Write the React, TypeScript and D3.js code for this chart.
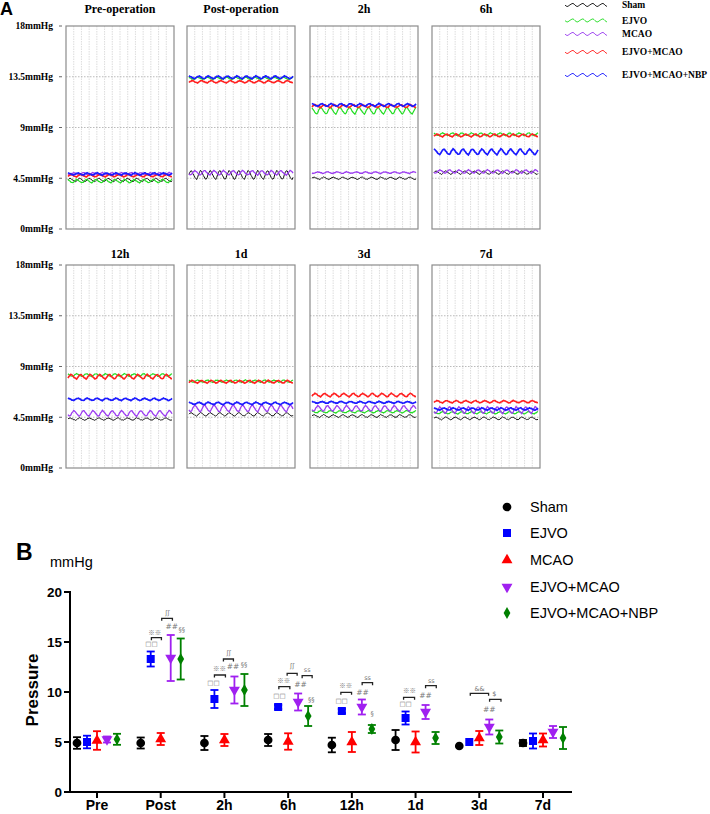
import React from "react";
import * as d3 from "d3";

// ---------- Panel A data ----------
const panelTitles = ["Pre-operation", "Post-operation", "2h", "6h", "12h", "1d", "3d", "7d"];
const aGroups = ["Sham", "EJVO", "MCAO", "EJVO+MCAO", "EJVO+MCAO+NBP"];
const aColors = ["#111111", "#22dd22", "#9b3cf0", "#ff2020", "#1a1aff"];
const aWidths = [1, 1.2, 1.3, 1.6, 1.7];
const aTicks = [0, 4.5, 9, 13.5, 18];
const aTickLabels = ["0mmHg", "4.5mmHg", "9mmHg", "13.5mmHg", "18mmHg"];
// baseline level of each trace in each panel (mmHg)
const aSham = [4.35, 4.8, 4.5, 5.0, 4.34, 4.76, 4.61, 4.4];
const aEjvo = [4.25, 13.36, 10.5, 8.4, 8.24, 7.7, 4.99, 4.9];
const aMcao = [4.9, 4.99, 5.0, 5.1, 4.85, 5.29, 5.29, 5.14];
const aEm = [4.73, 13.06, 10.9, 8.3, 8.1, 7.65, 6.47, 5.88];
const aNbp = [4.88, 13.45, 11.0, 6.85, 6.09, 5.73, 5.82, 5.23];
// half-amplitude of the oscillation of each trace (mmHg)
const ampSham = [0.15, 0.4, 0.1, 0.15, 0.1, 0.15, 0.12, 0.12];
const ampEjvo = [0.15, 0.1, 0.3, 0.12, 0.12, 0.1, 0.1, 0.1];
const ampMcao = [0.1, 0.2, 0.07, 0.15, 0.25, 0.3, 0.25, 0.3];
const ampEm = [0.1, 0.1, 0.12, 0.12, 0.2, 0.12, 0.15, 0.1];
const ampNbp = [0.1, 0.12, 0.12, 0.25, 0.1, 0.1, 0.08, 0.1];
// one beat of the recorded trace (normalised) and recording noise
const cycleShape = [0.1, 0.55, 0.95, 0.8, 0.35, -0.1, -0.5, -0.85, -1.0, -0.6];
const noise = [0.0, 0.3, -0.2, 0.15, -0.35, 0.25, -0.1, 0.4, -0.3, 0.05, 0.2, -0.25, 0.35];
const beats = 11;

// ---------- Panel B data ----------
const categories = ["Pre", "Post", "2h", "6h", "12h", "1d", "3d", "7d"];
const bGroups = ["Sham", "EJVO", "MCAO", "EJVO+MCAO", "EJVO+MCAO+NBP"];
const bColors = ["#000000", "#0000ff", "#ff0000", "#a020f0", "#008000"];
const bTicks = [0, 5, 10, 15, 20];
const shamMean = [4.9, 4.9, 4.9, 5.2, 4.7, 5.2, 4.6, 4.9];
const shamErr = [0.58, 0.55, 0.7, 0.6, 0.73, 1.0, 0, 0.3];
const ejvoMean = [5.0, 13.3, 9.3, 8.5, 8.1, 7.4, 5.0, 5.1];
const ejvoErr = [0.63, 0.75, 0.9, 0.2, 0.2, 0.65, 0, 0.75];
const mcaoMean = [5.15, 5.3, 5.2, 5.05, 5.0, 5.0, 5.4, 5.2];
const mcaoErr = [0.93, 0.6, 0.6, 0.82, 1.0, 1.05, 0.7, 0.65];
const emMean = [5.25, 13.4, 10.2, 9.0, 8.5, 8.0, 6.5, 6.0];
const emErr = [0.3, 2.3, 1.35, 0.85, 0.75, 0.7, 0.75, 0.6];
const nbpMean = [5.27, 13.3, 10.2, 7.6, 6.3, 5.4, 5.5, 5.4];
const nbpErr = [0.55, 2.05, 1.6, 1.0, 0.4, 0.6, 0.65, 1.1];
// significance marks: [category, slot offset, value, text]
const marks: [string, number, number, string][] = [
  ["Post", 0.67, 17.93, "ʃʃ"], ["Post", -0.6, 15.97, "※※"], ["Post", -0.93, 14.83, "□□"],
  ["Post", 1.1, 16.6, "##"], ["Post", 2.1, 16.2, "§§"],
  ["2h", -1.1, 10.93, "□□"], ["2h", -0.5, 12.37, "※※"], ["2h", 0.43, 13.93, "ʃʃ"],
  ["2h", 0.85, 12.6, "##"], ["2h", 1.95, 12.7, "§§"],
  ["6h", -0.87, 9.6, "□□"], ["6h", -0.43, 11.13, "※※"], ["6h", 0.4, 12.6, "ʃʃ"],
  ["6h", 1.23, 10.77, "##"], ["6h", 1.9, 12.2, "ss"], ["6h", 2.3, 9.27, "§§"],
  ["12h", -1.03, 9.13, "□□"], ["12h", -0.6, 10.6, "※※"], ["12h", 1.07, 9.97, "##"],
  ["12h", 1.57, 11.47, "ss"], ["12h", 2.03, 7.87, "§"],
  ["1d", -1.0, 8.8, "□□"], ["1d", -0.6, 10.1, "※※"], ["1d", 1.0, 9.7, "##"], ["1d", 1.57, 11.13, "ss"],
  ["3d", 0.03, 10.3, "&&"], ["3d", 1.5, 9.8, "$"], ["3d", 1.0, 8.27, "##"],
];
// brackets: [category, from slot, to slot, value]
const brackets: [string, number, number, number][] = [
  ["Post", 0.1, 1.17, 17.37], ["Post", -0.93, 0.07, 15.43],
  ["2h", -1.0, 0.1, 11.7], ["2h", -0.1, 0.9, 13.3],
  ["6h", -0.93, 0.17, 10.53], ["6h", -0.1, 0.9, 11.87], ["6h", 1.4, 2.4, 11.63],
  ["12h", -1.1, -0.03, 9.97], ["12h", 1.03, 2.07, 10.93],
  ["1d", -1.2, -0.1, 9.47], ["1d", 1.0, 2.07, 10.63],
  ["3d", -0.9, 0.93, 9.87], ["3d", 1.03, 2.17, 9.27],
];

const SERIF = "'Liberation Serif', 'Times New Roman', serif";
const SANS = "'Liberation Sans', Arial, sans-serif";

function markerPath(g: number, size: number) {
  const types = [d3.symbolCircle, d3.symbolSquare, d3.symbolTriangle, d3.symbolTriangle, d3.symbolDiamond];
  return d3.symbol().type(types[g]).size(size)() as string;
}

export default function App() {
  const aLevels = [aSham, aEjvo, aMcao, aEm, aNbp];
  const aAmps = [ampSham, ampEjvo, ampMcao, ampEm, ampNbp];
  const panelLefts = [66, 187, 310, 432];
  const panelW = 108;
  const rowY = [
    d3.scaleLinear().domain([0, 18]).range([229, 26]),
    d3.scaleLinear().domain([0, 18]).range([468, 265]),
  ];
  const titleY = [13, 258];
  const nPts = beats * cycleShape.length;

  const panels = panelTitles.map((title, p) => {
    const row = Math.floor(p / 4);
    const col = p % 4;
    const left = panelLefts[col];
    const y = rowY[row];
    const x = d3.scaleLinear().domain([0, nPts - 1]).range([left + 2, left + panelW - 2]);
    const top = y(18);
    const bottom = y(0);
    const vLines = d3.range(1, 14).map((i) => left + (i * panelW) / 14);
    return (
      <g key={title}>
        <text x={left + panelW / 2} y={titleY[row]} textAnchor="middle" fontFamily={SERIF} fontWeight="bold" fontSize={12}>
          {title}
        </text>
        <rect x={left} y={top} width={panelW} height={bottom - top} fill="#fff" />
        {vLines.map((vx, i) => (
          <line key={i} x1={vx} x2={vx} y1={top} y2={bottom} stroke="#d4d4d4" strokeWidth={0.8} strokeDasharray="1.5,1" />
        ))}
        {[4.5, 9, 13.5].map((t) => (
          <line key={t} x1={left} x2={left + panelW} y1={y(t)} y2={y(t)} stroke="#aaaaaa" strokeWidth={0.8} strokeDasharray="1.5,1.5" />
        ))}
        {aGroups.map((g, gi) => {
          const line = d3
            .line<number>()
            .x((_, i) => x(i))
            .y((_, i) =>
              y(
                aLevels[gi][p] +
                  aAmps[gi][p] * cycleShape[(i + gi * 3) % cycleShape.length] +
                  0.07 * noise[(i + gi * 5) % noise.length]
              )
            );
          return (
            <path key={g} d={line(d3.range(nPts)) as string} fill="none" stroke={aColors[gi]} strokeWidth={aWidths[gi]} />
          );
        })}
        <rect x={left} y={top} width={panelW} height={bottom - top} fill="none" stroke="#8c8c8c" strokeWidth={1.2} />
      </g>
    );
  });

  const yAxesA = rowY.map((y, r) => (
    <g key={r}>
      {aTicks.map((t, i) => (
        <g key={t}>
          <text x={53} y={y(t)} dy="0.35em" textAnchor="end" fontFamily={SERIF} fontWeight="bold" fontSize={9.5}>
            {aTickLabels[i]}
          </text>
          <line x1={59} x2={62} y1={y(t)} y2={y(t)} stroke="#666" strokeWidth={1} />
        </g>
      ))}
    </g>
  ));

  const legendAY = [5, 20.5, 34, 52, 75];
  const legendWave = d3.range(0, 43).map((i) => i);
  const legendA = aGroups.map((g, gi) => {
    const ly = legendAY[gi];
    const line = d3
      .line<number>()
      .x((i) => 565 + i)
      .y((i) => ly + 1.6 * cycleShape[i % cycleShape.length]);
    return (
      <g key={g}>
        <path d={line(legendWave) as string} fill="none" stroke={aColors[gi]} strokeWidth={0.9} />
        <text x={622} y={ly} dy="0.35em" fontFamily={SERIF} fontWeight="bold" fontSize={9.5}>
          {g}
        </text>
      </g>
    );
  });

  // ---------- Panel B ----------
  const bx = d3.scalePoint<string>().domain(categories).range([97, 543]).padding(0);
  const by = d3.scaleLinear().domain([0, 20]).range([792, 592]);
  const slot = 10;
  const offsets = [-2, -1, 0, 1, 2];
  const bMeans = [shamMean, ejvoMean, mcaoMean, emMean, nbpMean];
  const bErrs = [shamErr, ejvoErr, mcaoErr, emErr, nbpErr];
  const mSizes = [60, 64, 52, 52, 40];

  const points = bGroups.map((g, gi) =>
    categories.map((c, ci) => {
      const cx = (bx(c) as number) + offsets[gi] * slot;
      const m = bMeans[gi][ci];
      const e = bErrs[gi][ci];
      const col = bColors[gi];
      return (
        <g key={g + c}>
          {e > 0 && (
            <g stroke={col} strokeWidth={1.8}>
              <line x1={cx} x2={cx} y1={by(m + e)} y2={by(m - e)} />
              <line x1={cx - 4} x2={cx + 4} y1={by(m + e)} y2={by(m + e)} />
              <line x1={cx - 4} x2={cx + 4} y1={by(m - e)} y2={by(m - e)} />
            </g>
          )}
          <path
            d={markerPath(gi, mSizes[gi])}
            transform={`translate(${cx},${by(m)})${gi === 3 ? " rotate(180)" : ""}`}
            fill={col}
          />
        </g>
      );
    })
  );

  const legendBY = [507, 533, 560, 587, 613];

  return (
    <svg width={710} height={814} style={{ position: "absolute", left: 0, top: 0, background: "#fff" }}>
      <rect width={710} height={814} fill="#fff" />
      <text x={0} y={15} fontFamily={SANS} fontWeight="bold" fontSize={18}>A</text>
      {yAxesA}
      {panels}
      {legendA}

      <text x={16} y={560} fontFamily={SANS} fontWeight="bold" fontSize={23}>B</text>
      <text x={50} y={567} fontFamily={SANS} fontSize={14.5}>mmHg</text>
      <text transform="translate(38,690) rotate(-90)" textAnchor="middle" fontFamily={SANS} fontWeight="bold" fontSize={17}>
        Pressure
      </text>
      {/* y axis */}
      <line x1={70} x2={70} y1={by(20) - 1} y2={by(0) + 1} stroke="#000" strokeWidth={2} />
      {bTicks.map((t) => (
        <g key={t}>
          <line x1={64} x2={70} y1={by(t)} y2={by(t)} stroke="#000" strokeWidth={2} />
          <text x={62} y={by(t)} dy="0.36em" textAnchor="end" fontFamily={SANS} fontWeight="bold" fontSize={13.5}>
            {t}
          </text>
        </g>
      ))}
      {/* x axis */}
      <line x1={69} x2={572} y1={by(0)} y2={by(0)} stroke="#000" strokeWidth={2} />
      {categories.map((c) => (
        <g key={c}>
          <line x1={bx(c)} x2={bx(c)} y1={by(0)} y2={by(0) + 6} stroke="#000" strokeWidth={2} />
          <text x={bx(c)} y={810} textAnchor="middle" fontFamily={SANS} fontWeight="bold" fontSize={14}>
            {c}
          </text>
        </g>
      ))}
      {points}
      {brackets.map(([c, f, t, v], i) => {
        const x1 = (bx(c) as number) + f * slot;
        const x2 = (bx(c) as number) + t * slot;
        const yy = by(v);
        return (
          <path key={i} d={`M${x1},${yy + 2.5}V${yy}H${x2}V${yy + 2.5}`} fill="none" stroke="#222" strokeWidth={1.3} />
        );
      })}
      {marks.map(([c, o, v, t], i) => (
        <text
          key={i}
          x={(bx(c) as number) + o * slot}
          y={by(v)}
          dy="0.35em"
          textAnchor="middle"
          fontFamily={t === "※※" ? "'Noto Sans CJK SC', 'DejaVu Sans', sans-serif" : "'DejaVu Sans', sans-serif"}
          fontSize={t === "##" ? 7.5 : 6.5}
          fontStyle={t === "##" ? "italic" : "normal"}
          fill="#777"
        >
          {t}
        </text>
      ))}
      {/* legend B */}
      {bGroups.map((g, gi) => (
        <g key={g}>
          <path
            d={markerPath(gi, mSizes[gi])}
            transform={`translate(507,${legendBY[gi]})${gi === 3 ? " rotate(180)" : ""}`}
            fill={bColors[gi]}
          />
          <text x={530} y={legendBY[gi]} dy="0.36em" fontFamily={SANS} fontSize={14.5}>
            {g}
          </text>
        </g>
      ))}
    </svg>
  );
}
